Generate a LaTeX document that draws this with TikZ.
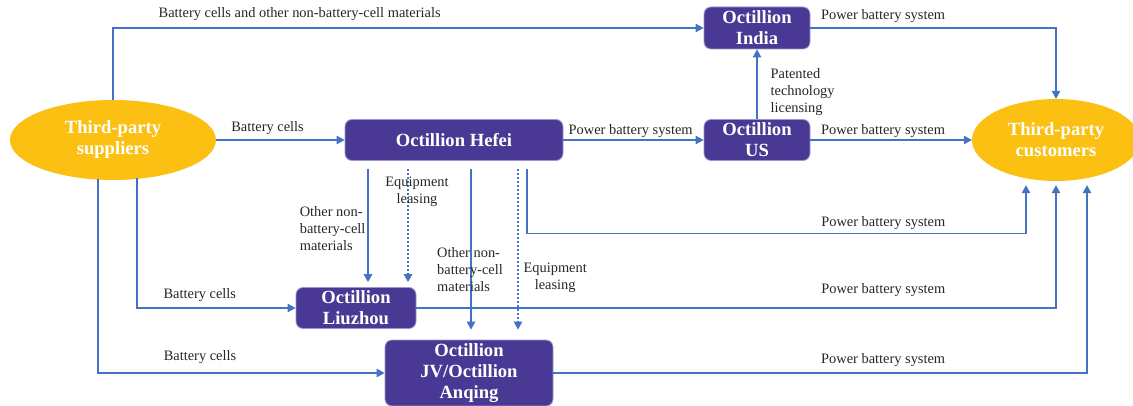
\documentclass[tikz,border=0pt]{standalone}
\usepackage{fontspec}
\setmainfont{Liberation Serif}
\usetikzlibrary{arrows.meta, positioning, shapes.geometric}
\definecolor{unitpurple}{RGB}{74,57,148}
\definecolor{unitedge}{RGB}{160,150,205}
\definecolor{partyyellow}{RGB}{251,192,18}
\definecolor{flowblue}{RGB}{68,114,196}
\definecolor{labelgray}{RGB}{38,38,38}

\begin{document}
\begin{tikzpicture}[x=1pt, y=-1pt,
    party/.style={ellipse, fill=partyyellow, text=white, inner sep=0pt, align=center,
        font=\fontsize{18.6}{21}\selectfont\bfseries},
    unit/.style={rectangle, rounded corners=7pt, fill=unitpurple, draw=unitedge, line width=0.8pt,
        text=white, inner sep=0pt, align=center, font=\fontsize{18.6}{21}\selectfont\bfseries},
    lbl/.style={inner sep=0pt, text=labelgray, align=center, font=\fontsize{14.4}{17}\selectfont},
    flow/.style={draw=flowblue, line width=1.2pt, -{Triangle[length=8pt, width=8.5pt]}},
    lease/.style={flow, dash pattern=on 2pt off 2pt}]

\useasboundingbox (0,0) rectangle (1133,406);

% third parties
\node [party, minimum width=206, minimum height=80] (sup) at (113,140) {Third-party\\suppliers};
\node [party, minimum width=168, minimum height=82] (cust) at (1056,140) {Third-party\\customers};

% Octillion units
\node [unit, minimum width=218, minimum height=41] (hefei) at (454,140) {Octillion Hefei};
\node [unit, minimum width=106, minimum height=41] (us) at (757,140) {Octillion\\US};
\node [unit, minimum width=106, minimum height=42] (india) at (757,28) {Octillion\\India};
\node [unit, minimum width=120, minimum height=41] (liuzhou) at (356,308) {Octillion\\Liuzhou};
\node [unit, minimum width=168, minimum height=66] (jv) at (469,373) {Octillion\\JV/Octillion\\Anqing};

% supplies
\draw[flow] (sup.north) |- node[lbl, above=7pt, pos=0.658] {Battery cells and other non-battery-cell materials} (india);
\draw[flow] (sup) -- node[lbl, above=5pt, pos=0.4] {Battery cells} (hefei);
\draw[flow] ([xshift=24pt,yshift=2pt]sup.south) |- node[lbl, above=6pt, pos=0.698] {Battery cells} (liuzhou);
\draw[flow] ([xshift=-15pt,yshift=1pt]sup.south) |- node[lbl, above=9pt, pos=0.678] {Battery cells} (jv);

% between units
\draw[flow] (hefei) -- node[lbl, above=2pt, pos=0.48] {Power battery system} (us);
\draw[flow] (us) -- node[lbl, right=13pt, align=left, pos=0.39] {Patented\\technology\\licensing} (india);
\draw[flow, shorten >=5pt] ([xshift=-86pt,yshift=-8pt]hefei.south) coordinate (o1) -- (o1 |- liuzhou.north)
    node[lbl, left=2pt, align=left, pos=0.506] {Other non-\\battery-cell\\materials};
\draw[lease, shorten >=5pt] ([xshift=-46pt,yshift=-8pt]hefei.south) coordinate (e1) -- (e1 |- liuzhou.north)
    node[lbl, xshift=9pt, pos=0.19] {Equipment\\leasing};
\draw[flow, shorten >=10pt] ([xshift=17pt,yshift=-8pt]hefei.south) coordinate (o2) -- (o2 |- jv.north)
    node[lbl, xshift=-1pt, align=left, pos=0.587] {Other non-\\battery-cell\\materials};
\draw[lease, shorten >=10pt] ([xshift=64pt,yshift=-8pt]hefei.south) coordinate (e2) -- (e2 |- jv.north)
    node[lbl, right=5pt, pos=0.64] {Equipment\\leasing};

% sales to customers
\draw[flow] (india) -| node[lbl, above=5pt, pos=0.148] {Power battery system} (cust);
\draw[flow] (us) -- node[lbl, above=2pt, pos=0.45] {Power battery system} (cust);
\draw[flow] ([xshift=73pt,yshift=-8pt]hefei.south) -- ++(0,65)
    -| node[lbl, above=4pt, pos=0.357] {Power battery system} ([xshift=-30pt,yshift=-4pt]cust.south);
\draw[flow] (liuzhou) -| node[lbl, above=11pt, pos=0.365] {Power battery system} ([yshift=-4pt]cust.south);
\draw[flow] (jv) -| node[lbl, above=6pt, pos=0.309] {Power battery system} ([xshift=31pt,yshift=-4pt]cust.south);
\end{tikzpicture}
\end{document}
